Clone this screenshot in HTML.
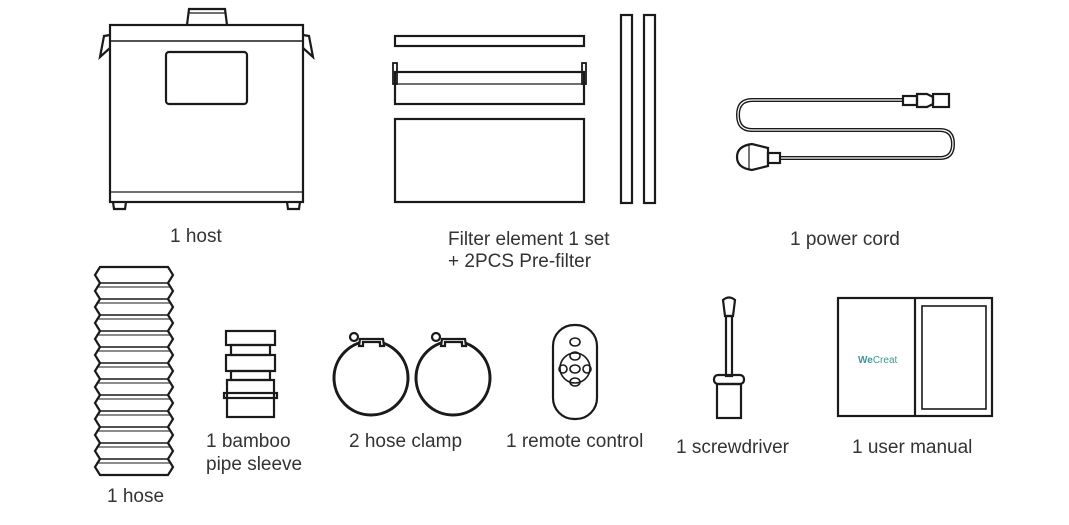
<!DOCTYPE html>
<html><head><meta charset="utf-8"><style>
html,body{margin:0;padding:0;background:#fff;}
svg{display:block}
text{font-family:"Liberation Sans",sans-serif;font-size:19px;fill:#333;}
</style></head><body>
<svg width="1069" height="525" viewBox="0 0 1069 525" xmlns="http://www.w3.org/2000/svg">
<g fill="none" stroke="#1a1a1a" stroke-width="2.2">
<!-- host -->
<path d="M187 25 L189 9 L225 9 L227 25"/>
<line x1="189" y1="13" x2="225" y2="13" stroke-width="1.2"/>
<rect x="110" y="25" width="193" height="177"/>
<line x1="110" y1="41" x2="303" y2="41" stroke-width="1.5"/>
<line x1="110" y1="192" x2="303" y2="192" stroke-width="1.2"/>
<path d="M110 35 L104 36 L100 57 L110 48"/>
<path d="M303 35 L309 36 L313 57 L303 48"/>
<rect x="166" y="52" width="81" height="52" rx="3"/>
<path d="M113 202 L114 209 L125 209 L126 202"/>
<path d="M287 202 L288 209 L299 209 L300 202"/>
<!-- filter -->
<rect x="395" y="36" width="189" height="10"/>
<rect x="395" y="72" width="189" height="32"/>
<line x1="395" y1="84" x2="584" y2="84" stroke-width="1.2"/>
<rect x="393" y="63" width="4" height="21" stroke-width="1.8"/>
<rect x="582" y="63" width="4" height="21" stroke-width="1.8"/>
<rect x="395" y="119" width="189" height="83"/>
<rect x="621" y="15" width="11" height="188"/>
<rect x="644" y="15" width="11" height="188"/>
<!-- power cord -->
<path d="M903 100 L752 100 Q738 100 738 115 Q738 130 752 130 L940 130 Q953 130 953 144 Q953 158 940 158 L780 158" stroke-width="4"/>
<path d="M903 100 L752 100 Q738 100 738 115 Q738 130 752 130 L940 130 Q953 130 953 144 Q953 158 940 158 L780 158" stroke="#fff" stroke-width="1.2"/>
<rect x="903" y="96" width="14" height="9"/>
<path d="M917 94 L927 94 L933 97 L933 104 L927 107 L917 107 Z"/>
<rect x="933" y="94" width="16" height="13"/>
<rect x="768" y="153" width="12" height="10"/>
<path d="M768 148 L752 144 Q737 146 737 157 Q737 168 752 170 L768 166 Z"/>
<line x1="749" y1="144" x2="749" y2="170" stroke-width="1.2"/>
<!-- hose -->
<path d="M100 267 L168 267 L173 275 L168 283 L173 291 L168 299 L173 307 L168 315 L173 323 L168 331 L173 339 L168 347 L173 355 L168 363 L173 371 L168 379 L173 387 L168 395 L173 403 L168 411 L173 419 L168 427 L173 435 L168 443 L173 451 L168 459 L173 467 L168 475 L100 475 L95 467 L100 459 L95 451 L100 443 L95 435 L100 427 L95 419 L100 411 L95 403 L100 395 L95 387 L100 379 L95 371 L100 363 L95 355 L100 347 L95 339 L100 331 L95 323 L100 315 L95 307 L100 299 L95 291 L100 283 L95 275 Z"/>
<g stroke-width="1.6">
<line x1="100" y1="283" x2="168" y2="283"/><line x1="100" y1="299" x2="168" y2="299"/>
<line x1="100" y1="315" x2="168" y2="315"/><line x1="100" y1="331" x2="168" y2="331"/>
<line x1="100" y1="347" x2="168" y2="347"/><line x1="100" y1="363" x2="168" y2="363"/>
<line x1="100" y1="379" x2="168" y2="379"/><line x1="100" y1="395" x2="168" y2="395"/>
<line x1="100" y1="411" x2="168" y2="411"/><line x1="100" y1="427" x2="168" y2="427"/>
<line x1="100" y1="443" x2="168" y2="443"/><line x1="100" y1="459" x2="168" y2="459"/>
</g>
<g stroke-width="1">
<line x1="98" y1="287" x2="170" y2="287"/><line x1="98" y1="303" x2="170" y2="303"/>
<line x1="98" y1="319" x2="170" y2="319"/><line x1="98" y1="335" x2="170" y2="335"/>
<line x1="98" y1="351" x2="170" y2="351"/><line x1="98" y1="367" x2="170" y2="367"/>
<line x1="98" y1="383" x2="170" y2="383"/><line x1="98" y1="399" x2="170" y2="399"/>
<line x1="98" y1="415" x2="170" y2="415"/><line x1="98" y1="431" x2="170" y2="431"/>
<line x1="98" y1="447" x2="170" y2="447"/><line x1="98" y1="463" x2="170" y2="463"/>
</g>
<!-- bamboo -->
<rect x="226" y="331" width="49" height="14"/>
<rect x="231" y="345" width="39" height="10"/>
<rect x="226" y="355" width="49" height="16"/>
<rect x="231" y="371" width="39" height="9"/>
<rect x="227" y="380" width="47" height="37"/>
<rect x="224" y="393" width="53" height="5"/>
<!-- clamps -->
<circle cx="371" cy="378" r="37" stroke-width="3"/>
<circle cx="453" cy="378" r="37" stroke-width="3"/>
<path d="M359 346 L360 339 L383 339 L384 346 L380 346 L380 342 L363 342 L363 346 Z" fill="#fff"/>
<circle cx="354" cy="337" r="4"/>
<path d="M441 346 L442 339 L465 339 L466 346 L462 346 L462 342 L445 342 L445 346 Z" fill="#fff"/>
<circle cx="436" cy="337" r="4"/>
<!-- remote -->
<rect x="553" y="325" width="44" height="94" rx="21"/>
<circle cx="575" cy="368" r="15" stroke-width="1.6"/>
<g stroke-width="1.6">
<ellipse cx="575" cy="342" rx="5" ry="4"/>
<ellipse cx="575" cy="356" rx="5" ry="4"/>
<ellipse cx="575" cy="369" rx="5" ry="4"/>
<ellipse cx="575" cy="382" rx="5" ry="4"/>
<ellipse cx="563" cy="369" rx="4" ry="4"/>
<ellipse cx="587" cy="369" rx="4" ry="4"/>
</g>
<!-- screwdriver -->
<path d="M725 316 L723 300 Q729 295 735 300 L733 316 Z"/>
<rect x="726" y="316" width="6" height="60"/>
<rect x="714" y="375" width="30" height="9" rx="4"/>
<rect x="717" y="384" width="24" height="34"/>
<!-- manual -->
<rect x="838" y="298" width="154" height="118"/>
<line x1="915" y1="298" x2="915" y2="416"/>
<rect x="922" y="306" width="64" height="103" stroke-width="1.6"/>
</g>
<text x="858" y="363" style="font-size:10px;fill:#3a9a9a;font-weight:bold">We<tspan style="font-weight:normal">Creat</tspan></text>
<text x="170" y="242">1 host</text>
<text x="448" y="245">Filter element 1 set</text>
<text x="448" y="267">+ 2PCS Pre-filter</text>
<text x="790" y="245">1 power cord</text>
<text x="206" y="447">1 bamboo</text>
<text x="206" y="470">pipe sleeve</text>
<text x="349" y="447">2 hose clamp</text>
<text x="506" y="447">1 remote control</text>
<text x="676" y="453">1 screwdriver</text>
<text x="852" y="453">1 user manual</text>
<text x="107" y="502">1 hose</text>
</svg>
</body></html>
